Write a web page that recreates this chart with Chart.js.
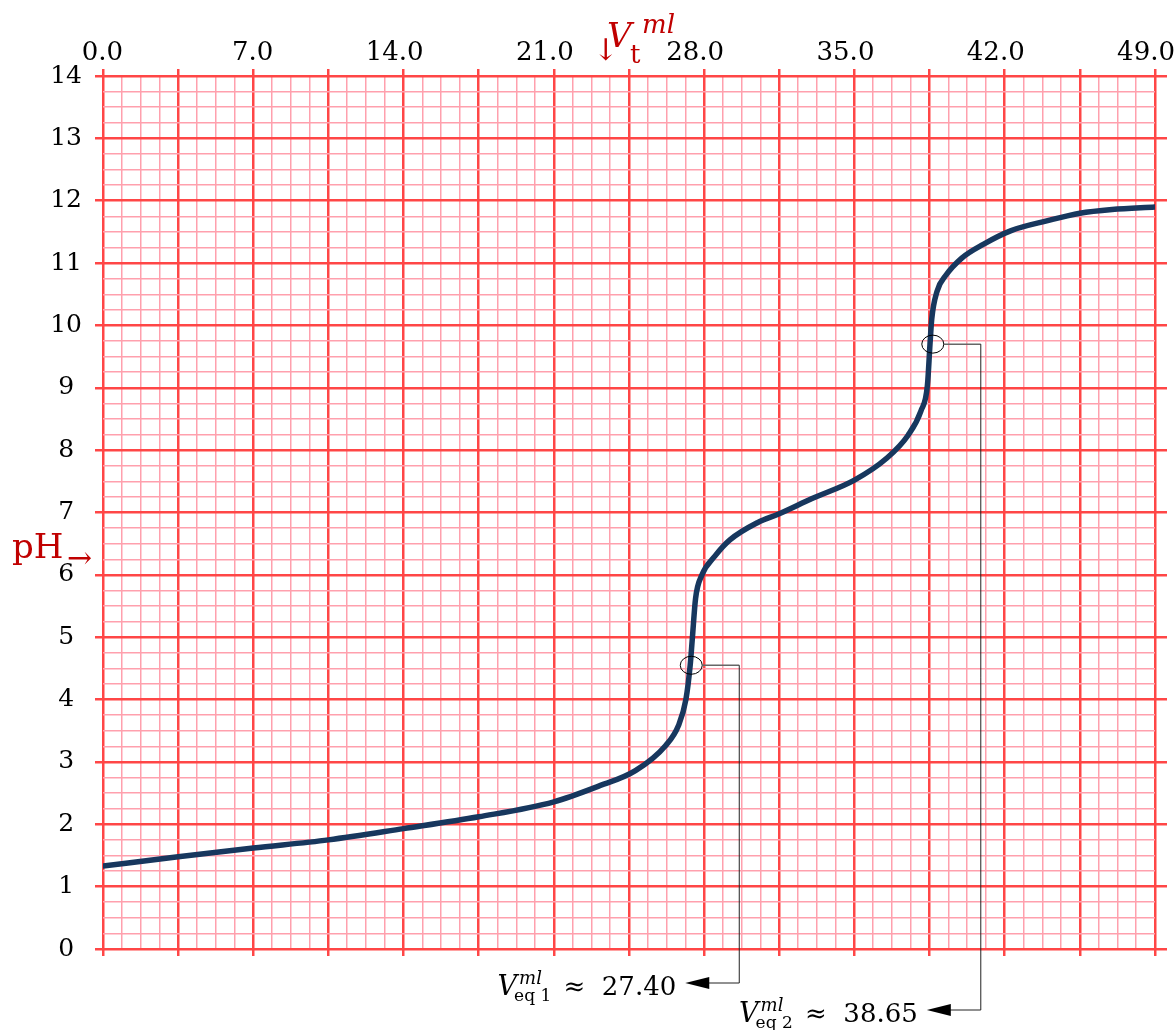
<!DOCTYPE html>
<html>
<head>
<meta charset="utf-8">
<script src="https://cdn.jsdelivr.net/npm/chart.js@4.4.1/dist/chart.umd.min.js"></script>
<style>
  html, body { margin: 0; padding: 0; background: #fff; }
  canvas { display: block; }
</style>
</head>
<body>
<canvas id="titration" width="1174" height="1030"></canvas>
<script>
const volume = [0, 3.5, 7, 10.5, 14, 17.5, 21, 23, 24.8, 26.2, 26.8, 27.15, 27.35, 27.45, 27.6, 27.9,
  28.5, 29.2, 30.5, 31.5, 33, 35, 36.5, 37.5, 38.1, 38.4, 38.52, 38.6, 38.85, 39.25, 40, 41,
  42.3, 44, 45.5, 47, 49];
const pH = [1.33, 1.48, 1.62, 1.75, 1.93, 2.12, 2.36, 2.6, 2.86, 3.26, 3.58, 4.0, 4.55, 4.98, 5.62, 6.0,
  6.3, 6.56, 6.84, 6.98, 7.22, 7.52, 7.87, 8.24, 8.63, 9.04, 9.7, 10.1, 10.55, 10.8, 11.08, 11.3,
  11.52, 11.68, 11.8, 11.86, 11.9];

// equivalence points
const eqVolume = [27.40, 38.65];
const eqPH = [4.55, 9.70];
const eqName = ['eq 1', 'eq 2'];
const eqText = ['27.40', '38.65'];

const xMax = 49, xMinor = 0.875, xMajor = 3.5, xLabelStep = 7;
const yMax = 14, yMinor = 0.25, yMajor = 1;

const MAJOR = '#ff4646';
const MINOR = '#ffa0ad';
const DARKRED = '#c00000';
const SERIF = '"DejaVu Serif", serif';

function onStep(v, step) {
  const q = v / step;
  return Math.abs(q - Math.round(q)) < 1e-6;
}

function gridFor(major, tickLen, onArea) {
  return {
    drawOnChartArea: onArea,
    drawTicks: true,
    tickLength: tickLen,
    color: c => (c.tick && onStep(c.tick.value, major)) ? MAJOR : MINOR,
    lineWidth: c => (c.tick && onStep(c.tick.value, major)) ? 2.5 : 1.5,
    tickColor: c => (c.tick && onStep(c.tick.value, major)) ? MAJOR : 'rgba(0,0,0,0)',
    tickWidth: 2.5
  };
}

// V with sub/superscript, then "≈ value", right aligned at rightX
function drawEqLabel(ctx, rightX, baseY, name, value) {
  const fV = 'italic 27px ' + SERIF;
  const fSub = '17px ' + SERIF;
  const fSup = 'italic 18px ' + SERIF;
  const fNum = '26px ' + SERIF;
  const tail = ' \u2248  ' + value;
  ctx.font = fV; const wV = ctx.measureText('V').width;
  ctx.font = fSub; const wSub = ctx.measureText(name).width;
  ctx.font = fSup; const wSup = ctx.measureText('ml').width;
  ctx.font = fNum; const wTail = ctx.measureText(tail).width;
  const wScript = Math.max(wSub - 3, wSup + 2) + 4;
  let x = rightX - (wV + wScript + wTail);
  ctx.fillStyle = '#000';
  ctx.textAlign = 'left';
  ctx.textBaseline = 'alphabetic';
  ctx.font = fV; ctx.fillText('V', x, baseY);
  x += wV;
  ctx.font = fSup; ctx.fillText('ml', x + 2, baseY - 11);
  ctx.font = fSub; ctx.fillText(name, x - 3, baseY + 6);
  x += wScript;
  ctx.font = fNum; ctx.fillText(tail, x, baseY);
}

const eqPlugin = {
  id: 'eqPoints',
  afterDraw(chart) {
    const { ctx, chartArea } = chart;
    const xs = chart.scales.x, ys = chart.scales.y;
    const rowOffset = [34, 61];
    eqVolume.forEach((v, i) => {
      const cx = xs.getPixelForValue(v);
      const cy = ys.getPixelForValue(eqPH[i]);
      const elbow = cx + 48;
      const rowY = chartArea.bottom + rowOffset[i];
      const tip = elbow - 54;
      ctx.save();
      ctx.strokeStyle = '#000';
      ctx.lineWidth = 1;
      ctx.beginPath();
      ctx.ellipse(cx, cy, 11, 9, 0, 0, Math.PI * 2);
      ctx.stroke();
      ctx.strokeStyle = '#666';
      ctx.lineWidth = 1.5;
      ctx.beginPath();
      ctx.moveTo(cx + 11, cy);
      ctx.lineTo(elbow, cy);
      ctx.stroke();
      ctx.strokeStyle = '#222';
      ctx.lineWidth = 1;
      ctx.beginPath();
      ctx.moveTo(elbow, cy);
      ctx.lineTo(elbow, rowY);
      ctx.lineTo(tip + 22, rowY);
      ctx.stroke();
      ctx.fillStyle = '#000';
      ctx.beginPath();
      ctx.moveTo(tip, rowY);
      ctx.lineTo(tip + 24, rowY - 6);
      ctx.lineTo(tip + 24, rowY + 6);
      ctx.closePath();
      ctx.fill();
      drawEqLabel(ctx, tip - 9, rowY + 12, eqName[i], eqText[i]);
      ctx.restore();
    });

    // axis titles
    ctx.save();
    ctx.fillStyle = DARKRED;
    ctx.textAlign = 'left';
    ctx.textBaseline = 'alphabetic';
    ctx.font = '30px ' + SERIF; ctx.fillText('\u2193', 593, 60);
    ctx.font = 'italic 34px ' + SERIF; ctx.fillText('V', 607, 47);
    ctx.font = '26px ' + SERIF; ctx.fillText('t', 630, 63);
    ctx.font = 'italic 26px ' + SERIF; ctx.fillText('ml', 642, 33);
    ctx.font = '34px ' + SERIF; ctx.fillText('pH', 12, 558);
    ctx.font = '30px ' + SERIF; ctx.fillText('\u2192', 67, 568);
    ctx.restore();
  }
};

new Chart(document.getElementById('titration'), {
  type: 'line',
  data: {
    datasets: [{
      data: volume.map((v, i) => ({ x: v, y: pH[i] })),
      borderColor: '#17375e',
      borderWidth: 5.5,
      pointRadius: 0,
      fill: false,
      cubicInterpolationMode: 'monotone',
      borderCapStyle: 'round'
    }]
  },
  options: {
    responsive: false,
    animation: false,
    devicePixelRatio: 1,
    layout: { padding: 0 },
    plugins: { legend: { display: false }, tooltip: { enabled: false } },
    scales: {
      x: {
        type: 'linear', position: 'top', min: 0, max: xMax,
        border: { display: false },
        grid: gridFor(xMajor, 7, true),
        ticks: {
          stepSize: xMinor, autoSkip: false, maxRotation: 0, padding: 0,
          align: 'end', labelOffset: 20,
          color: '#000', font: { family: SERIF, size: 26 },
          callback: v => onStep(v, xLabelStep) ? v.toFixed(1) : ''
        },
        afterFit: s => { s.height = 76; }
      },
      xb: {
        type: 'linear', position: 'bottom', min: 0, max: xMax,
        border: { display: false },
        grid: gridFor(xMajor, 7, false),
        ticks: { stepSize: xMinor, autoSkip: false, display: false },
        afterFit: s => { s.height = 81; }
      },
      y: {
        type: 'linear', position: 'left', min: 0, max: yMax,
        border: { display: false },
        grid: gridFor(yMajor, 8, true),
        ticks: {
          stepSize: yMinor, autoSkip: false, padding: 13, crossAlign: 'center',
          color: '#000', font: { family: SERIF, size: 25 },
          callback: v => onStep(v, yMajor) ? String(Math.round(v)) : ''
        },
        afterFit: s => { s.width = 103; }
      },
      yr: {
        type: 'linear', position: 'right', min: 0, max: yMax,
        border: { display: false },
        grid: gridFor(yMajor, 12, false),
        ticks: { stepSize: yMinor, autoSkip: false, display: false },
        afterFit: s => { s.width = 19; }
      }
    }
  },
  plugins: [eqPlugin]
});
</script>
</body>
</html>
